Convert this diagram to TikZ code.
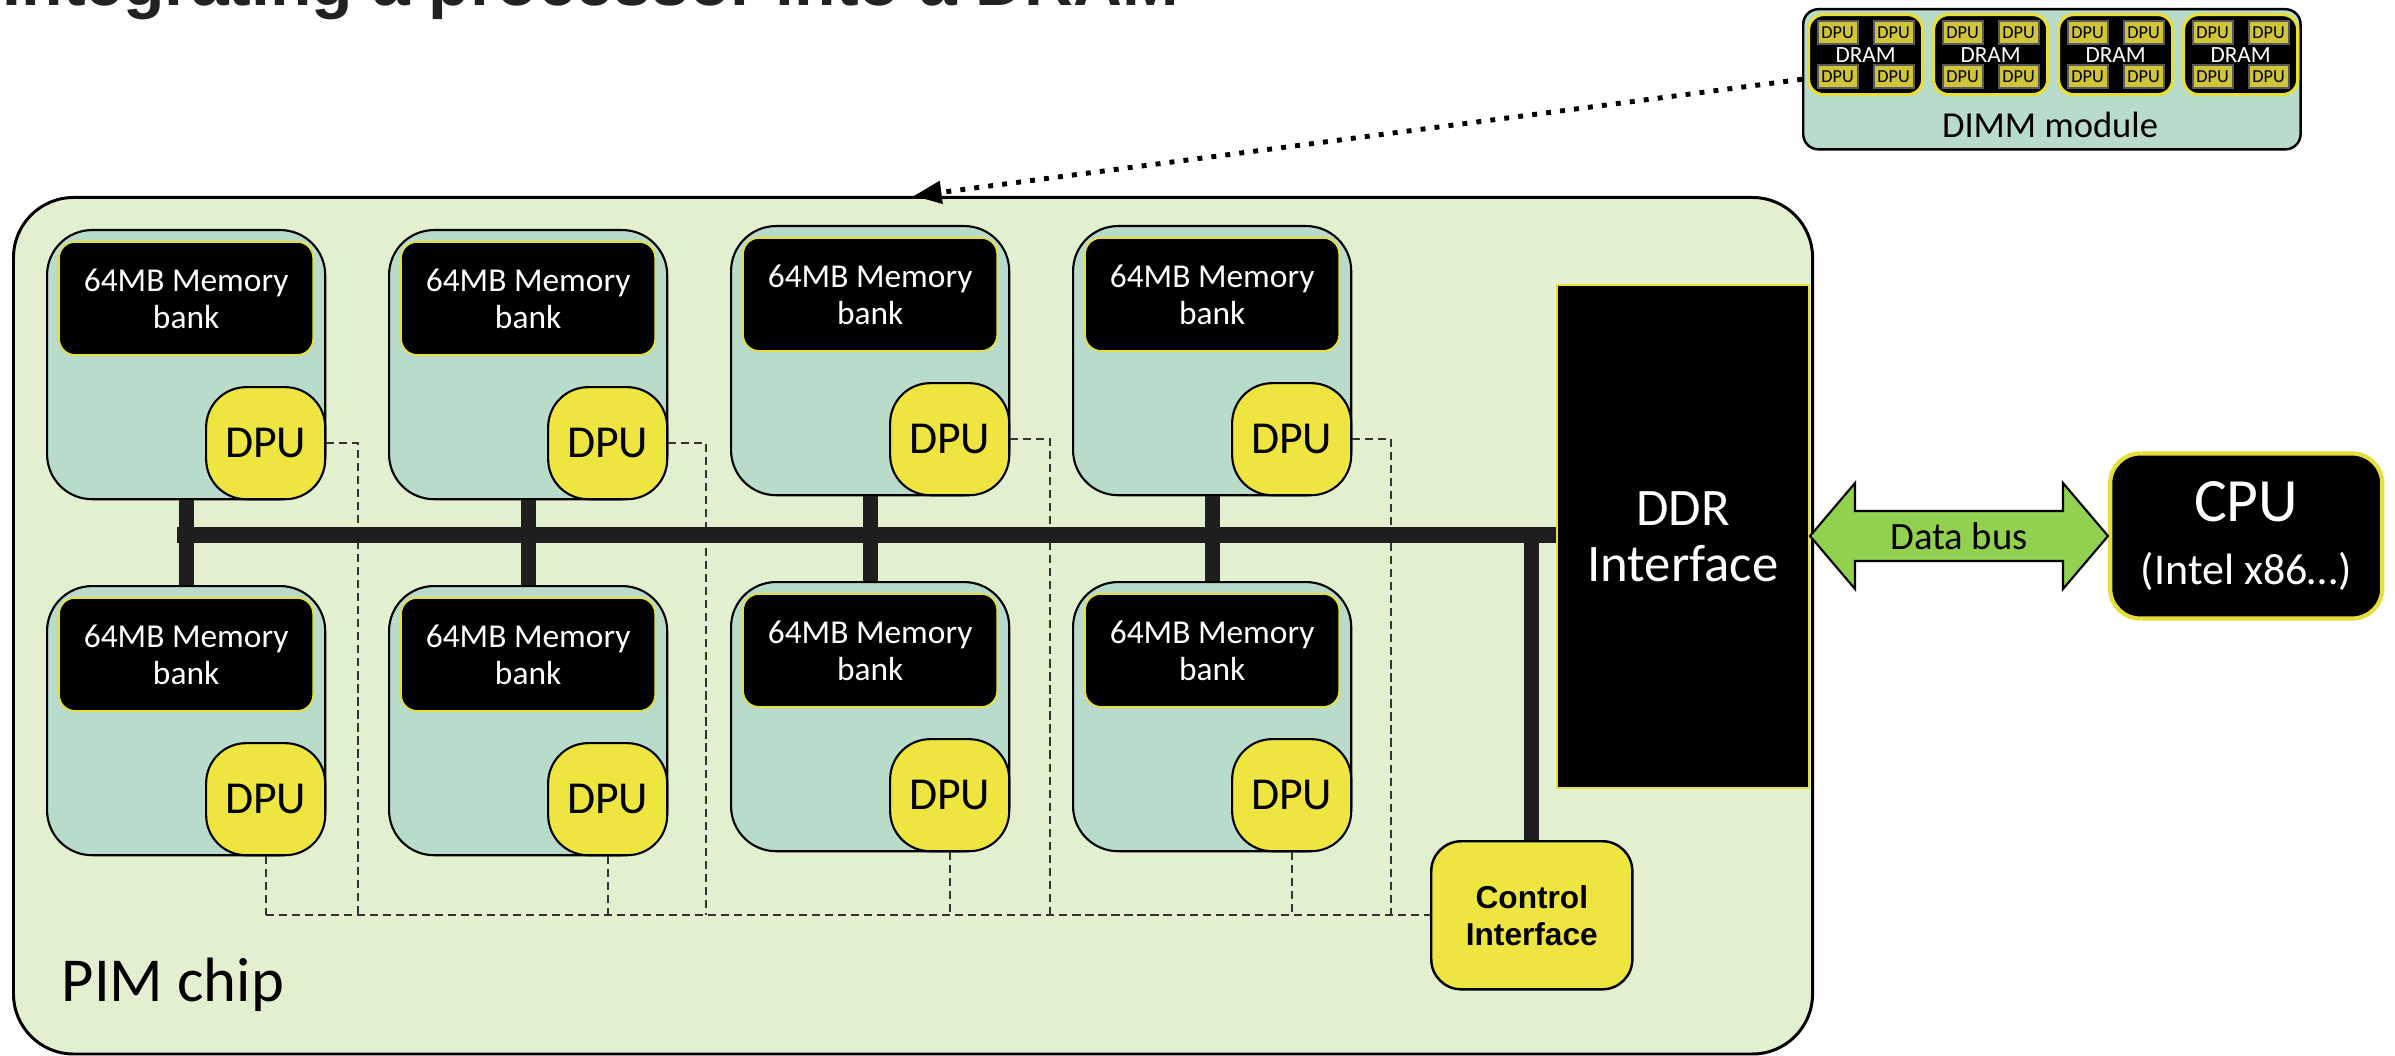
\documentclass[tikz,border=0pt]{standalone}
\usepackage{fontspec}
\setmainfont{Carlito}
\newfontfamily\arialfont{Liberation Sans}
\usepackage{tikz}
\usetikzlibrary{positioning}
\usetikzlibrary{arrows.meta}
\usetikzlibrary{calc}
\definecolor{chipgreen}{HTML}{E2F0CF}
\definecolor{bankteal}{HTML}{B8DBCA}
\definecolor{dpuyellow}{HTML}{EFE540}
\definecolor{edgeyellow}{HTML}{E8DE3A}
\definecolor{busgreen}{HTML}{92D050}
\definecolor{busblack}{HTML}{1E1E1E}
\definecolor{dashgray}{HTML}{333333}
\definecolor{smalldpu}{HTML}{CFC43A}
\definecolor{titlegray}{HTML}{222222}
\tikzset{pimbox/.style={draw, line width=0.85pt, fill=chipgreen,
         rounded corners=0.6cm, minimum width=17.98cm,
         minimum height=8.56cm, anchor=north west},
         bankbox/.style={draw, line width=0.6pt, fill=bankteal,
         rounded corners=0.45cm, minimum width=2.78cm,
         minimum height=2.69cm, anchor=north west},
         membox/.style={draw=edgeyellow, line width=0.5pt, fill=black,
         text=white, rounded corners=0.16cm, minimum width=2.54cm,
         minimum height=1.13cm, inner sep=0pt, align=center,
         font=\fontsize{9.5}{10.5}\selectfont, anchor=north},
         dpubox/.style={draw, line width=0.6pt, fill=dpuyellow,
         rounded corners=0.4cm, minimum width=1.19cm,
         minimum height=1.12cm, inner sep=0pt, anchor=south east,
         font=\fontsize{13}{15}\selectfont},
         busline/.style={draw=busblack, line width=4.3pt},
         ctrlline/.style={draw=dashgray, line width=0.55pt,
         dash pattern=on 2.3pt off 1.4pt},
         ctrlbox/.style={draw, line width=0.7pt, fill=dpuyellow,
         rounded corners=0.3cm, minimum width=2.01cm,
         minimum height=1.48cm, inner sep=0pt, align=center,
         anchor=north west,
         font=\arialfont\bfseries\fontsize{9}{10.5}\selectfont},
         ddrbox/.style={draw=edgeyellow, line width=0.6pt, fill=black,
         text=white, minimum width=2.52cm, minimum height=5.03cm,
         inner sep=0pt, align=center, anchor=north east,
         font=\fontsize{15}{16}\selectfont},
         cpubox/.style={draw=edgeyellow, line width=1.2pt, fill=black,
         text=white, rounded corners=0.3cm, minimum width=2.72cm,
         minimum height=1.65cm, inner sep=0pt, align=center,
         anchor=west},
         databus/.style={draw, line width=0.6pt, fill=busgreen},
         dimmbox/.style={draw, line width=0.7pt, fill=bankteal,
         rounded corners=0.15cm, minimum width=4.97cm,
         minimum height=1.40cm, anchor=north west},
         dimmchip/.style={draw=edgeyellow, line width=0.9pt, fill=black,
         text=white, rounded corners=0.15cm, minimum width=1.14cm,
         minimum height=0.80cm, inner sep=0pt, anchor=north west,
         font=\fontsize{6.6}{7}\selectfont},
         dimmdpu/.style={draw=gray!70!black, line width=0.5pt,
         fill=smalldpu, minimum width=0.40cm, minimum height=0.23cm,
         inner sep=0pt, font=\fontsize{5.2}{6}\selectfont},
         dotarrow/.style={line width=1.4pt, dash pattern=on 1.4pt off 2.6pt,
         -{Triangle[length=0.28cm, width=0.22cm]}}}

\begin{document}
\begin{tikzpicture}[x=0.01cm, y=-0.01cm]
\useasboundingbox (0,0) rectangle (2395,1055);
\clip (0,0) rectangle (2395,1055);

% title, cut by the top edge
\node[anchor=base west, inner sep=0pt, text=titlegray,
      font=\arialfont\bfseries\fontsize{19.3}{22}\selectfont] (title)
      at (2,6) {Integrating a processor into a DRAM};

% the chip
\node[pimbox] (pim) at (12,196) {};
\node[anchor=west, inner sep=0pt, font=\fontsize{17.8}{20}\selectfont]
      (pimlabel) at (61,985) {PIM chip};

% banks with their DPUs
\foreach \i/\x/\y in {1/46/229, 2/388/229, 3/730/225, 4/1072/225} {
  \node[bankbox] (bankT\i) at (\x,\y) {};
  \node[membox] (memT\i) at ($(bankT\i.north)+(0,12)$) {64MB Memory\\bank};
  \node[dpubox] (dpuT\i) at (bankT\i.south east) {DPU};
  \node[bankbox] (bankB\i) at (\x,\y+356) {};
  \node[membox] (memB\i) at ($(bankB\i.north)+(0,12)$) {64MB Memory\\bank};
  \node[dpubox] (dpuB\i) at (bankB\i.south east) {DPU};
}

\node[ctrlbox] (ctrl) at (1430,840) {Control\\Interface};
\node[ddrbox] (ddr) at (1810,284) {DDR\\Interface};

% control wires
\foreach \i/\d in {1/32, 2/38, 3/40, 4/39} {
  \draw[ctrlline] (dpuT\i.east) -- ++(\d,0) coordinate (ct\i)
                  -- (ct\i |- ctrl.west);
  \draw[ctrlline] (dpuB\i.south) -- (dpuB\i.south |- ctrl.west);
}
\draw[ctrlline] (dpuB1.south |- ctrl.west) -- (ctrl.west);

% memory bus
\coordinate (busW) at (177,535);
\draw[busline] (busW) -- (busW -| ddr.west);
\foreach \i in {1,...,4}
  \draw[busline] (bankT\i.south) -- (bankB\i.north);
\draw[busline] (ctrl.north |- busW) -- (ctrl.north);

% host side
\node[cpubox] (cpu) at (2108,536)
      {{\fontsize{17.5}{18}\selectfont CPU}\\[6pt]
       {\fontsize{12.5}{14}\selectfont (Intel x86…)}};
\coordinate (busL) at (ddr.east |- cpu.west);
\draw[databus] (busL) -- ++(45,-53) -- ++(0,28)
      -- ($(cpu.west)+(-45,-25)$) -- ++(0,-28) -- (cpu.west)
      -- ++(-45,53) -- ++(0,-28) -- ($(busL)+(45,25)$)
      -- ++(0,28) -- cycle;
\node[font=\fontsize{11}{12}\selectfont] (buslabel)
      at ($(busL)!0.5!(cpu.west)$) {Data bus};

% DIMM module
\node[dimmbox] (dimm) at (1802,8) {};
\foreach \j in {0,...,3} {
  \node[dimmchip] (dchip\j) at ({1807+125*\j},13) {DRAM};
  \foreach \dx/\dy [count=\k] in {-28/-22, 28/-22, -28/22, 28/22}
    \node[dimmdpu] (ddpu\j-\k) at ($(dchip\j)+(\dx,\dy)$) {DPU};
}
\node[font=\fontsize{10.4}{12}\selectfont] (dimmlabel) at (2050,125)
      {DIMM module};
\draw[dotarrow] (dimm.west) -- ([xshift=9.01cm]pim.north west);

\end{tikzpicture}
\end{document}
